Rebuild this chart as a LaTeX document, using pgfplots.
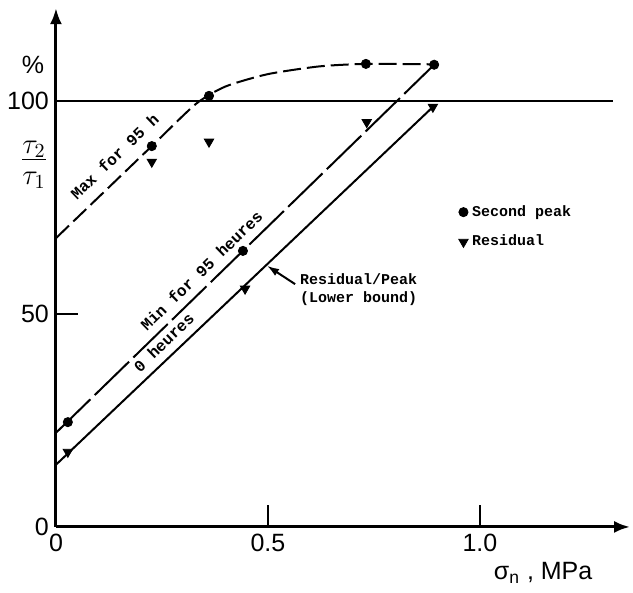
\documentclass[border=0pt]{standalone}
\usepackage{pgfplots}
\pgfplotsset{compat=1.18}
\usepackage{fontspec}
\setmainfont{Liberation Sans}
\setmonofont{Liberation Mono}
\usetikzlibrary{arrows.meta}

\begin{document}
\begin{tikzpicture}
\begin{axis}[
    x=212pt, y=2.13pt,
    xmin=0, xmax=1.354, ymin=0, ymax=121.8,
    axis x line=bottom, axis y line=left,
    axis line style={line width=1.5pt, -{Latex[length=8pt,width=6pt]}},
    xtick={0,0.5,1.0}, xticklabels={0,0.5,1.0},
    ytick={0,50,100}, yticklabels={0,50,100},
    tick align=inside, major tick length=11pt,
    tick style={line width=1.2pt, black},
    ticklabel style={font=\fontsize{12.5}{14}\selectfont},
    clip=false,
    legend style={at={(axis cs:0.935,77.5)}, anchor=north west, draw=none, fill=none,
        font=\ttfamily\bfseries\fontsize{7.5}{9}\selectfont, row sep=4pt},
    legend cell align=left,
]
% measured points
\addplot[only marks, mark=*, mark size=2.3pt, black]
    coordinates {(0.028,24.6) (0.226,89.4) (0.361,101.2) (0.441,64.8) (0.731,108.7) (0.892,108.5)};
\addlegendentry{Second peak}
\addplot[only marks, mark=triangle*, mark size=2.7pt, mark options={rotate=180}, black]
    coordinates {(0.028,17.6) (0.226,85.7) (0.361,90.4) (0.446,55.9) (0.733,95.0) (0.889,98.6)};
\addlegendentry{Residual}

% bounds
\addplot[forget plot, black, line width=1pt, dash pattern=on 9pt off 3pt, smooth, tension=0.4]
    coordinates {(0,67.8) (0.226,89.4) (0.33,99.3) (0.40,103.4) (0.5,106.3) (0.62,108.1) (0.73,108.7) (0.89,108.6)};
\addplot[forget plot, black, line width=1pt, dash pattern=on 24pt off 3pt]
    coordinates {(0,22.1) (0.892,108.5)};
\addplot[forget plot, black, line width=1pt]
    coordinates {(0,14.6) (0.889,98.6)};
\addplot[forget plot, black, line width=1.2pt]
    coordinates {(0,100) (1.314,100)};

\path (axis cs:-0.132,-15.5) rectangle (axis cs:1.361,123.7);

\node[rotate=44, font=\ttfamily\bfseries\fontsize{8}{9}\selectfont] at (axis cs:0.138,87) {Max for 95 h};
\node[rotate=44.3, font=\ttfamily\bfseries\fontsize{8}{9}\selectfont] at (axis cs:0.343,60.2) {Min for 95 heures};
\node[rotate=44, font=\ttfamily\bfseries\fontsize{8}{9}\selectfont] at (axis cs:0.254,43.3) {0 heures};
\draw[-{Latex[length=6pt,width=4pt]}, line width=1pt] (axis cs:0.564,57) -- (axis cs:0.498,61.3);
\node[anchor=north west, align=left, inner sep=0pt, font=\ttfamily\bfseries\fontsize{7.5}{9}\selectfont]
    at (axis cs:0.575,59.5) {Residual/Peak\\(Lower bound)};

\node[font=\fontsize{12.5}{14}\selectfont] at (axis cs:-0.054,108.5) {\%};
\node[font=\fontsize{20}{22}\selectfont] at (axis cs:-0.052,85) {$\frac{\tau_2}{\tau_1}$};
\node[font=\fontsize{12.5}{14}\selectfont] at (axis cs:1.149,-10.8) {σ\textsubscript{n} , MPa};
\end{axis}
\end{tikzpicture}
\end{document}
